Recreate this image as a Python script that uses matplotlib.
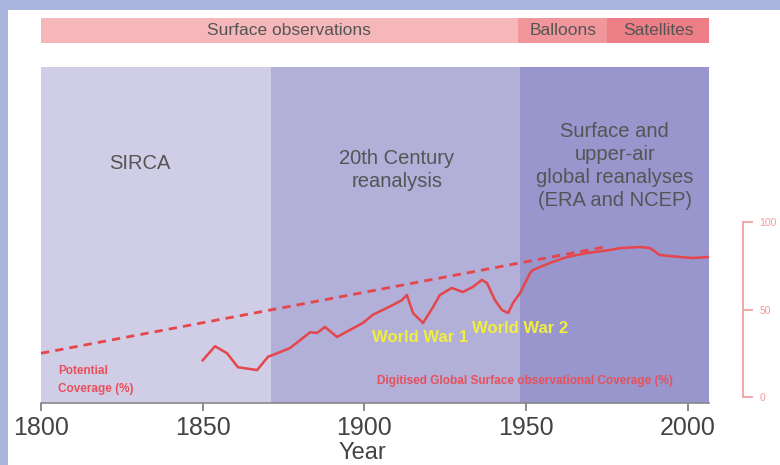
import matplotlib.pyplot as plt
import numpy as np
from matplotlib.patches import Rectangle

plt.rcParams['font.family'] = ['Liberation Sans', 'DejaVu Sans']

# digitised global surface observational coverage (%)
years = [1850, 1853.8, 1857.5, 1860.9, 1866.8, 1870.2, 1873, 1877, 1883.2, 1885.3,
         1887.8, 1891.5, 1899.5, 1902.6, 1908.8, 1911.6, 1913.1, 1915, 1918.1, 1921.2,
         1923.3, 1927, 1930.4, 1933.5, 1936.3, 1937.9, 1940.3, 1942.5, 1944.4, 1945.9,
         1948.1, 1951.2, 1952.1, 1957.3, 1962.6, 1968.8, 1975.9, 1979, 1985.2, 1988.3,
         1991.3, 1997.5, 2001.5, 2006.2]
coverage = [21, 29, 25, 17, 15.4, 23, 25, 28, 37, 36.6,
            40, 34.3, 42.3, 47, 52.6, 55.4, 58.3, 48, 42.3, 51.4,
            58.3, 62.3, 60, 62.9, 66.9, 65.1, 55.4, 49.7, 48, 53.7,
            59.4, 70.9, 72.6, 76.6, 80, 82.3, 84, 85.1, 85.7, 85.1,
            81.1, 80, 79.4, 80]

# potential coverage (dashed)
pot_years = [1800, 1975]
pot_cov = [25, 86]

# reanalysis periods
period_edges = [1800, 1871, 1948, 2006.5]
period_labels = ["SIRCA", "20th Century\nreanalysis",
                 "Surface and\nupper-air\nglobal reanalyses\n(ERA and NCEP)"]
period_colors = ["#d0cee7", "#b2afd8", "#9896cc"]

# observing systems
obs_edges = [1800, 1947.5, 1975, 2006.5]
obs_labels = ["Surface observations", "Balloons", "Satellites"]
obs_colors = ["#f5b7ba", "#f1979c", "#ee7e85"]

xticks = [1800, 1850, 1900, 1950, 2000]
red = "#e5454b"
txtred = "#e8505a"


def px2y(p):
    # pixel row -> coverage scale
    return (397 - p) / 1.75


fig = plt.figure(figsize=(7.8, 4.65), dpi=100)
fig.patch.set_facecolor("#a8b4dc")
fig.patches.append(Rectangle((8 / 780, 0), 1, 455 / 465, transform=fig.transFigure,
                             facecolor="white", edgecolor="none", zorder=-10))

# top bar
axt = fig.add_axes([41 / 780, 1 - 43 / 465, 668 / 780, 25 / 465])
obs_text_x = [1876.5, 1961.5, 1990.8]
for i in range(3):
    axt.axvspan(obs_edges[i], obs_edges[i + 1], color=obs_colors[i], lw=0)
    axt.text(obs_text_x[i], 0.5, obs_labels[i], ha="center",
             va="center", fontsize=12.5, color="#555555")
axt.set_xlim(1800, 2006.5)
axt.set_ylim(0, 1)
axt.axis("off")

# main panel
ax = fig.add_axes([41 / 780, 1 - 403 / 465, 668 / 780, 336 / 465])
text_x = [1830.6, 1910, 1977.4]
text_y = [163, 170, 166]
for i in range(3):
    ax.axvspan(period_edges[i], period_edges[i + 1], color=period_colors[i], lw=0)
    ax.text(text_x[i], px2y(text_y[i]), period_labels[i], ha="center", va="center",
            fontsize=14.5, color="#555555", linespacing=1.25)

ax.plot(years, coverage, color=red, lw=1.8)
ax.plot(pot_years, pot_cov, color=red, lw=2, ls=(0, (3, 2.2)))

ax.text(1917.2, px2y(337), "World War 1", color="#f2ee3c", fontsize=12,
        fontweight="bold", ha="center", va="center")
ax.text(1948, px2y(328), "World War 2", color="#f2ee3c", fontsize=12,
        fontweight="bold", ha="center", va="center")
ax.text(1805.3, px2y(380), "Potential\nCoverage (%)", color=txtred, fontsize=8.5,
        fontweight="bold", ha="left", va="center", linespacing=1.6)
ax.text(1949.6, px2y(381), "Digitised Global Surface observational Coverage (%)",
        color=txtred, fontsize=8.5, fontweight="bold", ha="center", va="center")

ax.set_xlim(1800, 2006.5)
ax.set_ylim(px2y(403), px2y(67))
ax.set_yticks([])
ax.set_xticks(xticks)
ax.tick_params(axis="x", colors="#777777", labelcolor="#444444", labelsize=18,
               length=6, width=1.2, pad=3)
for s in ["top", "right", "left"]:
    ax.spines[s].set_visible(False)
ax.spines["bottom"].set_color("#888888")
ax.spines["bottom"].set_linewidth(1.2)
fig.text(362 / 780, 0.002, "Year", fontsize=17, color="#444444", ha="center",
         va="bottom")

# right coverage scale
axr = fig.add_axes([0.5, 1 - 397 / 465, 743 / 780 - 0.5, 175 / 465])
axr.set_ylim(0, 100)
axr.set_yticks([0, 50, 100])
axr.yaxis.tick_right()
axr.tick_params(axis="y", colors="#f29a9a", labelsize=7.5, length=7, width=1.2, pad=5)
axr.patch.set_visible(False)
axr.set_xticks([])
for s in ["top", "left", "bottom"]:
    axr.spines[s].set_visible(False)
axr.spines["right"].set_color("#f29a9a")
axr.spines["right"].set_linewidth(1.2)

fig.savefig("out.png", dpi=100)
